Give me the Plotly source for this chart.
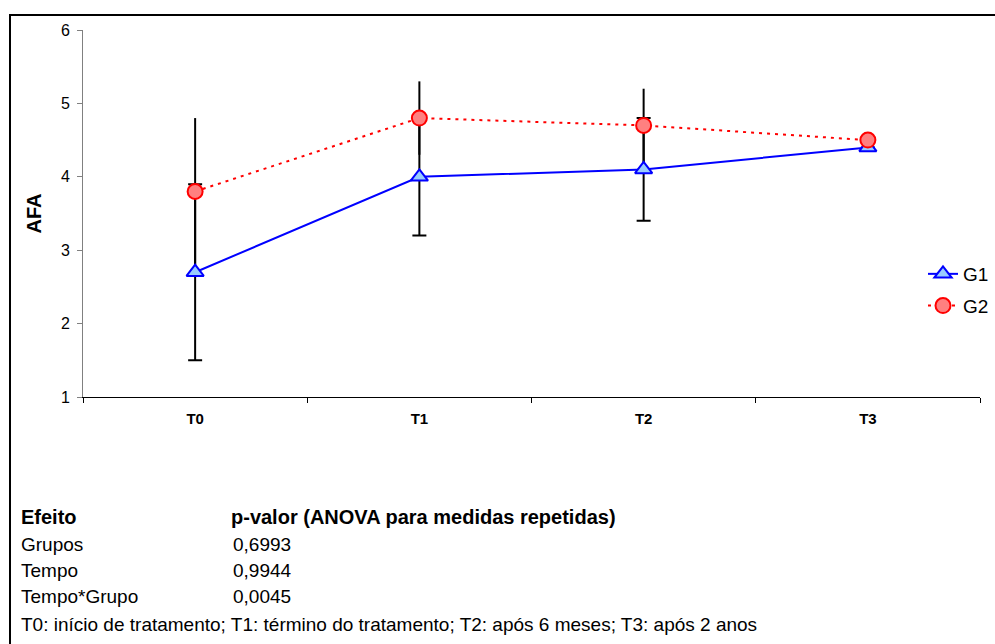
import plotly.graph_objects as go

categories = ["T0", "T1", "T2", "T3"]
g1_values = [2.7, 4.0, 4.1, 4.4]
g1_errors = [1.2, 0.8, 0.7, 0.0]
g2_values = [3.8, 4.8, 4.7, 4.5]
g2_errors = [1.0, 0.5, 0.5, 0.0]

table_header = ["Efeito", "p-valor (ANOVA para medidas repetidas)"]
table_effects = ["Grupos", "Tempo", "Tempo*Grupo"]
table_pvalues = ["0,6993", "0,9944", "0,0045"]
footnote = "T0: início de tratamento; T1: término do tratamento; T2: após 6 meses; T3: após 2 anos"

W, H = 995, 644
ML, MR, MT, MB = 83, 15, 30, 247
PW = W - ML - MR
PH = H - MT - MB

def px(x):
    return (x - ML) / PW

def py(y):
    return (H - MB - y) / PH

FONT = "Arial, Liberation Sans, sans-serif"

fig = go.Figure()

# error bars (drawn underneath markers)
fig.add_trace(go.Scatter(
    x=categories, y=g2_values, mode="markers",
    marker=dict(size=1, color="rgba(0,0,0,0)"),
    error_y=dict(type="data", array=g2_errors, visible=True, color="black", thickness=2, width=0),
    showlegend=False, hoverinfo="skip"))
fig.add_trace(go.Scatter(
    x=categories, y=g1_values, mode="markers",
    marker=dict(size=1, color="rgba(0,0,0,0)"),
    error_y=dict(type="data", array=g1_errors, visible=True, color="black", thickness=2, width=7),
    showlegend=False, hoverinfo="skip"))

fig.add_trace(go.Scatter(
    x=categories, y=g1_values, mode="lines+markers", name="G1",
    line=dict(color="#0000ff", width=2),
    marker=dict(symbol="triangle-up", size=15, color="#99ccff", line=dict(color="#0000ff", width=2)),
    legendgroup="a"))
fig.add_trace(go.Scatter(
    x=categories, y=g2_values, mode="lines+markers", name="G2",
    line=dict(color="#ff0000", width=2, dash="3px,5px"),
    marker=dict(symbol="circle", size=15, color="#ff8080", line=dict(color="#ff0000", width=2)),
    legendgroup="b"))

ann = []
rows_y = [544, 570, 596]
hfont = dict(family=FONT, size=20, color="black")
bfont = dict(family=FONT, size=19, color="black")
ann.append(dict(text="<b>" + table_header[0] + "</b>", x=px(19), y=py(517), font=hfont))
ann.append(dict(text="<b>" + table_header[1] + "</b>", x=px(229), y=py(517), font=hfont))
for eff, pv, yy in zip(table_effects, table_pvalues, rows_y):
    ann.append(dict(text=eff, x=px(19), y=py(yy), font=bfont))
    ann.append(dict(text=pv, x=px(231), y=py(yy), font=bfont))
ann.append(dict(text=footnote, x=px(19), y=py(624), font=bfont))
annotations = [dict(a, xref="paper", yref="paper", xanchor="left", yanchor="middle",
                    showarrow=False) for a in ann]

fig.update_layout(
    width=W, height=H,
    margin=dict(l=ML, r=MR, t=MT, b=MB, pad=0, autoexpand=False),
    paper_bgcolor="white", plot_bgcolor="white",
    font=dict(family=FONT, color="black"),
    xaxis=dict(
        type="category", range=[-0.5, 3.5], tickson="boundaries",
        showline=True, linecolor="black", linewidth=1,
        ticks="outside", ticklen=5, tickcolor="black",
        showgrid=False, zeroline=False,
        tickfont=dict(family=FONT, size=15, color="black", weight="bold"),
        ticklabelstandoff=8),
    yaxis=dict(
        range=[1, 6], dtick=1, showline=True, linecolor="#808080", linewidth=1,
        ticks="outside", ticklen=5, tickcolor="#808080",
        showgrid=False, zeroline=False,
        tickfont=dict(family=FONT, size=16, color="black"),
        ticklabelstandoff=4,
        title=dict(text="<b>AFA</b>", font=dict(family=FONT, size=20, color="black"), standoff=13)),
    legend=dict(
        x=px(923), y=py(290), xanchor="left", yanchor="middle",
        font=dict(family=FONT, size=19, color="black"),
        bgcolor="rgba(0,0,0,0)", traceorder="grouped", tracegroupgap=4,
        itemwidth=30),
    annotations=annotations,
    shapes=[dict(type="rect", xref="paper", yref="paper",
                 x0=px(10), x1=px(1010), y0=py(700), y1=py(15),
                 line=dict(color="black", width=2), fillcolor="rgba(0,0,0,0)", layer="above")],
)

fig.write_html("out.html")
